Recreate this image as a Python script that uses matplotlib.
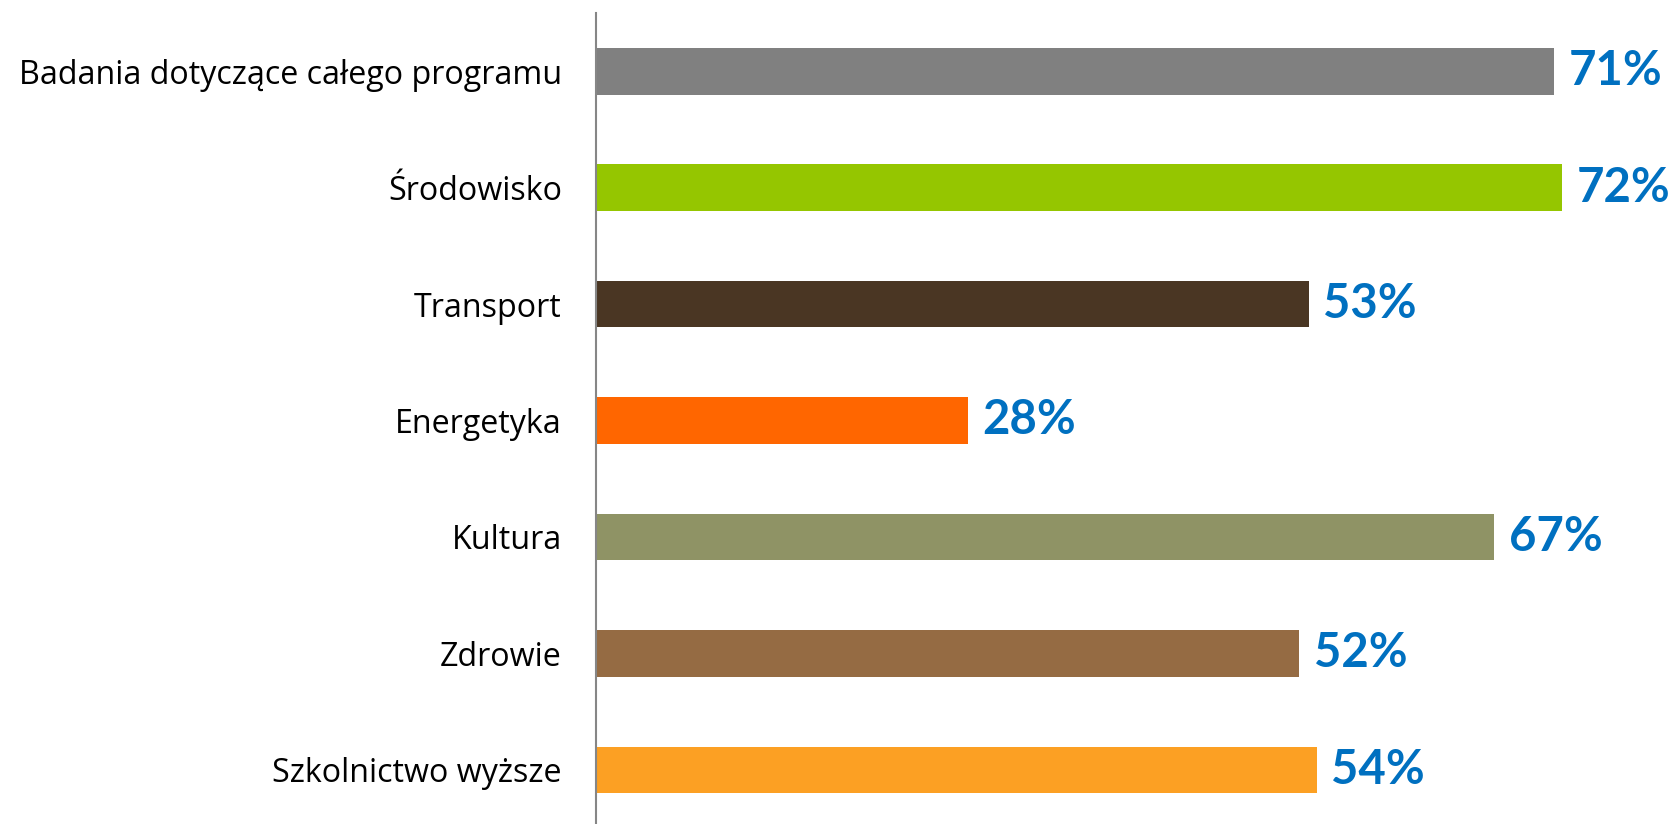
import matplotlib.pyplot as plt

categories = ['Badania dotyczące całego programu', 'Środowisko', 'Transport',
              'Energetyka', 'Kultura', 'Zdrowie', 'Szkolnictwo wyższe']
values = [71.4, 72.0, 53.1, 27.7, 66.9, 52.4, 53.7]
colors = ['#808080', '#95C600', '#4A3623', '#FF6600', '#8F9365', '#956B43', '#FCA023']

plt.rcParams['font.family'] = ['Lato', 'DejaVu Sans']

fig = plt.figure(figsize=(16.75, 8.24), dpi=100)
ax = fig.add_axes([596 / 1675, -4 / 824, 1079 / 1675, 815 / 824])

y = range(len(categories))
ax.barh(y, values, height=0.4, color=colors)
ax.set_ylim(6.5, -0.5)
ax.set_xlim(0, 80.4)

for i, v in enumerate(values):
    ax.text(v + 1.1, i, f'{v:.0f}%', va='center', ha='left',
            fontsize=34, fontweight='bold', color='#0070C0')

ax.set_yticks(list(y))
ax.set_yticklabels(categories, fontsize=23.2, family=['Open Sans', 'DejaVu Sans'])
ax.tick_params(axis='y', length=0, pad=24.5)
ax.set_xticks([])
for s in ['top', 'right', 'bottom']:
    ax.spines[s].set_visible(False)
ax.spines['left'].set_color('#868686')
ax.spines['left'].set_linewidth(1.5)

fig.savefig('out.png', dpi=100)
